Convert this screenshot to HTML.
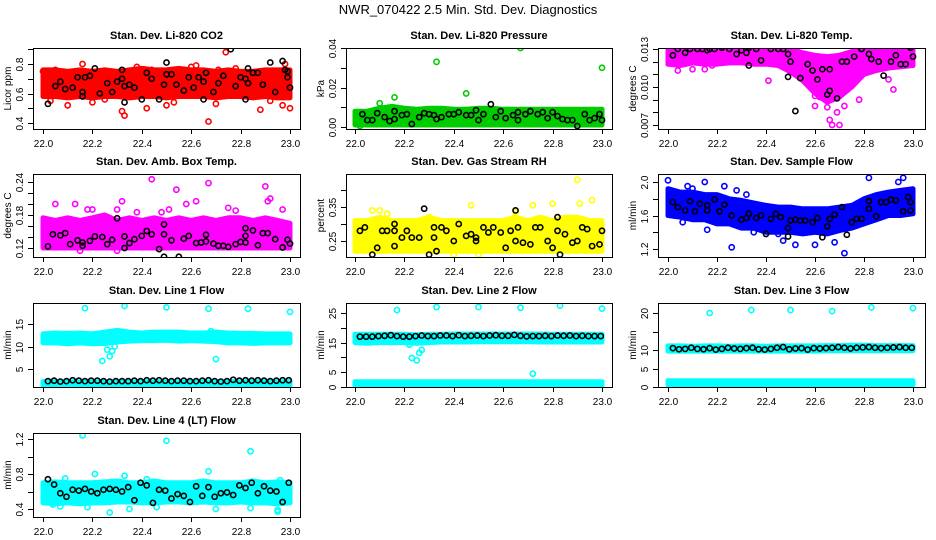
<!DOCTYPE html>
<html><head><meta charset="utf-8"><style>
body{margin:0;background:#fff}
svg{display:block;font-family:"Liberation Sans",Arial,sans-serif}
</style></head><body>
<svg id="c" width="936" height="540" viewBox="0 0 936 540">
<rect width="936" height="540" fill="#fff"/>
<text x="468" y="14" text-anchor="middle" font-size="13">NWR_070422  2.5 Min. Std. Dev. Diagnostics</text>
</svg>
<script>
// shared x grid for bands (22.00 .. 23.00 step 0.05)
const bandT = [22.00,22.05,22.10,22.15,22.20,22.25,22.30,22.35,22.40,22.45,22.50,22.55,22.60,22.65,22.70,22.75,22.80,22.85,22.90,22.95,23.00];
const lineT = [22.02,22.045,22.07,22.095,22.12,22.145,22.17,22.195,22.22,22.245,22.27,22.295,22.32,22.345,22.37,22.395,22.42,22.445,22.47,22.495,22.52,22.545,22.57,22.595,22.62,22.645,22.67,22.695,22.72,22.745,22.77,22.795,22.82,22.845,22.87,22.895,22.92,22.945,22.97,22.995];
const xTicks = [22.0,22.2,22.4,22.6,22.8,23.0];
const xTickLabels = ["22.0","22.2","22.4","22.6","22.8","23.0"];

// Panel 1 CO2
const co2Lo = [0.58,0.58,0.57,0.58,0.57,0.58,0.58,0.57,0.58,0.58,0.57,0.58,0.58,0.58,0.57,0.58,0.58,0.57,0.58,0.57,0.57];
const co2Hi = [0.76,0.76,0.75,0.76,0.75,0.76,0.75,0.76,0.77,0.76,0.76,0.77,0.76,0.76,0.75,0.76,0.75,0.75,0.76,0.76,0.76];
const co2Pts = [[22.0,0.75],[22.05,0.76],[22.1,0.52],[22.16,0.80],[22.18,0.74],[22.25,0.56],[22.32,0.48],[22.33,0.45],[22.42,0.50],[22.44,0.76],[22.5,0.52],[22.53,0.54],[22.6,0.78],[22.62,0.79],[22.67,0.41],[22.71,0.76],[22.74,0.88],[22.78,0.77],[22.88,0.49],[22.9,0.74],[22.97,0.52],[22.98,0.80],[23.0,0.50],[22.2,0.54],[22.7,0.53],[22.38,0.78],[22.03,0.55],[22.92,0.55]];
const co2Blk = [[22.02,0.53],[22.05,0.65],[22.07,0.68],[22.09,0.63],[22.12,0.64],[22.14,0.71],[22.16,0.61],[22.16,0.58],[22.17,0.71],[22.19,0.72],[22.21,0.77],[22.23,0.60],[22.26,0.67],[22.28,0.61],[22.3,0.68],[22.32,0.76],[22.32,0.70],[22.33,0.65],[22.33,0.54],[22.35,0.66],[22.37,0.64],[22.4,0.56],[22.42,0.74],[22.44,0.70],[22.47,0.56],[22.49,0.66],[22.5,0.73],[22.5,0.81],[22.52,0.73],[22.54,0.66],[22.57,0.62],[22.59,0.71],[22.61,0.64],[22.63,0.71],[22.65,0.68],[22.65,0.56],[22.66,0.74],[22.69,0.61],[22.71,0.67],[22.73,0.72],[22.76,0.90],[22.78,0.65],[22.8,0.71],[22.82,0.56],[22.82,0.70],[22.83,0.67],[22.83,0.77],[22.85,0.74],[22.87,0.74],[22.89,0.66],[22.92,0.81],[22.94,0.61],[22.97,0.82],[22.98,0.76],[22.99,0.75],[22.99,0.71],[23.0,0.64]];
// Panel 2 Pressure
const prLo = [0.001,0.001,0.001,0.001,0.001,0.001,0.001,0.001,0.001,0.001,0.001,0.001,0.001,0.001,0.001,0.001,0.001,0.001,0.001,0.001,0.001];
const prHi = [0.008,0.008,0.0095,0.0105,0.0095,0.009,0.0095,0.0095,0.009,0.009,0.0095,0.0095,0.009,0.009,0.009,0.009,0.009,0.009,0.009,0.009,0.009];
const prPts = [[22.33,0.033],[22.45,0.017],[22.67,0.040],[23.0,0.030],[22.16,0.015],[22.1,0.012],[22.02,0.0005]];
const prBlk = [[22.03,0.0065],[22.05,0.0035],[22.07,0.0035],[22.09,0.007],[22.12,0.005],[22.14,0.003],[22.16,0.008],[22.16,0.004],[22.19,0.006],[22.21,0.0065],[22.23,0.0015],[22.26,0.005],[22.28,0.007],[22.3,0.0065],[22.32,0.006],[22.33,0.004],[22.35,0.005],[22.38,0.0065],[22.4,0.0065],[22.42,0.0075],[22.45,0.006],[22.47,0.006],[22.49,0.0085],[22.5,0.0035],[22.52,0.0065],[22.55,0.0115],[22.57,0.005],[22.59,0.008],[22.61,0.0045],[22.64,0.006],[22.66,0.0075],[22.66,0.0035],[22.69,0.0065],[22.71,0.008],[22.74,0.0065],[22.76,0.0075],[22.78,0.0045],[22.8,0.0075],[22.82,0.0055],[22.84,0.004],[22.86,0.0035],[22.88,0.0035],[22.9,0.0005],[22.93,0.0065],[22.95,0.0035],[22.97,0.0045],[22.99,0.0065],[23.0,0.0035]];
// Panel 3 Li-820 Temp
const tLo = [0.0118,0.0117,0.0119,0.0118,0.0118,0.0119,0.0119,0.0118,0.0118,0.0117,0.0112,0.0105,0.0095,0.0088,0.0092,0.0100,0.0110,0.0113,0.0115,0.0116,0.0117];
const tHi = [0.0131,0.0131,0.0131,0.0131,0.0131,0.0131,0.0131,0.0131,0.0131,0.0131,0.0130,0.0127,0.0125,0.0124,0.0125,0.0128,0.0131,0.0131,0.0131,0.0131,0.0131];
const tPts = [[22.04,0.0113],[22.1,0.0114],[22.15,0.0114],[22.18,0.0117],[22.41,0.0105],[22.5,0.0112],[22.6,0.0093],[22.62,0.0092],[22.65,0.0084],[22.66,0.0074],[22.67,0.0070],[22.69,0.0080],[22.7,0.0070],[22.72,0.0085],[22.78,0.0090],[22.9,0.0106],[22.92,0.0098],[22.6,0.0085]];
const tBlk = [[22.02,0.0125],[22.04,0.0130],[22.07,0.0127],[22.09,0.0130],[22.12,0.0130],[22.14,0.0130],[22.16,0.0129],[22.17,0.0130],[22.19,0.0130],[22.22,0.0131],[22.25,0.0130],[22.28,0.0126],[22.3,0.0129],[22.33,0.0131],[22.32,0.0127],[22.33,0.0117],[22.36,0.0130],[22.38,0.0121],[22.42,0.0130],[22.45,0.0130],[22.47,0.0130],[22.49,0.0126],[22.5,0.0120],[22.49,0.0108],[22.52,0.0081],[22.54,0.0107],[22.57,0.0118],[22.59,0.0113],[22.61,0.0106],[22.63,0.0114],[22.66,0.0114],[22.66,0.0097],[22.65,0.0094],[22.69,0.0091],[22.71,0.0120],[22.73,0.0120],[22.76,0.0124],[22.79,0.0130],[22.82,0.0126],[22.83,0.0122],[22.86,0.0120],[22.88,0.0109],[22.91,0.0120],[22.93,0.0125],[22.95,0.0118],[22.97,0.0118],[22.99,0.0131],[23.0,0.0124]];
// Panel 4 Amb Box Temp
const abLo = [0.12,0.12,0.12,0.12,0.12,0.12,0.12,0.12,0.12,0.12,0.12,0.12,0.12,0.12,0.12,0.12,0.12,0.12,0.12,0.12,0.12];
const abHi = [0.175,0.17,0.175,0.17,0.175,0.18,0.17,0.175,0.17,0.175,0.17,0.175,0.17,0.175,0.17,0.175,0.175,0.17,0.175,0.17,0.165];
const abPts = [[22.05,0.20],[22.13,0.20],[22.18,0.19],[22.2,0.19],[22.3,0.19],[22.32,0.205],[22.38,0.185],[22.44,0.245],[22.48,0.185],[22.51,0.19],[22.54,0.226],[22.58,0.20],[22.62,0.205],[22.67,0.238],[22.75,0.193],[22.78,0.188],[22.9,0.232],[22.91,0.205],[22.92,0.21],[22.97,0.19],[22.15,0.115],[22.3,0.115]];
const abBlk = [[22.02,0.123],[22.04,0.145],[22.07,0.143],[22.09,0.147],[22.11,0.127],[22.14,0.134],[22.16,0.130],[22.16,0.124],[22.19,0.133],[22.21,0.141],[22.24,0.140],[22.26,0.127],[22.28,0.135],[22.3,0.174],[22.33,0.141],[22.33,0.120],[22.35,0.129],[22.37,0.136],[22.4,0.142],[22.42,0.151],[22.44,0.145],[22.47,0.118],[22.49,0.163],[22.49,0.145],[22.49,0.104],[22.52,0.134],[22.55,0.104],[22.57,0.137],[22.59,0.142],[22.62,0.129],[22.64,0.130],[22.66,0.144],[22.66,0.132],[22.69,0.128],[22.71,0.124],[22.73,0.124],[22.75,0.122],[22.78,0.127],[22.8,0.131],[22.82,0.130],[22.82,0.142],[22.82,0.156],[22.85,0.152],[22.87,0.125],[22.89,0.147],[22.91,0.147],[22.94,0.136],[22.97,0.121],[22.99,0.135],[23.0,0.128]];
// Panel 5 Gas Stream RH
const rhLo = [0.22,0.22,0.22,0.22,0.22,0.22,0.22,0.22,0.22,0.22,0.22,0.22,0.22,0.22,0.22,0.22,0.22,0.22,0.22,0.22,0.22];
const rhHi = [0.31,0.31,0.32,0.31,0.31,0.31,0.32,0.31,0.31,0.31,0.31,0.31,0.31,0.32,0.31,0.32,0.31,0.32,0.32,0.31,0.31];
const rhPts = [[22.07,0.34],[22.1,0.34],[22.13,0.33],[22.3,0.32],[22.47,0.355],[22.72,0.355],[22.8,0.36],[22.9,0.43],[22.91,0.36],[22.96,0.37],[22.5,0.21],[22.4,0.21],[22.65,0.335]];
const rhBlk = [[22.02,0.28],[22.04,0.29],[22.07,0.21],[22.09,0.23],[22.11,0.28],[22.13,0.28],[22.16,0.30],[22.16,0.28],[22.16,0.235],[22.19,0.26],[22.21,0.28],[22.23,0.26],[22.26,0.26],[22.28,0.345],[22.3,0.21],[22.32,0.29],[22.32,0.26],[22.33,0.22],[22.35,0.29],[22.37,0.28],[22.4,0.25],[22.42,0.30],[22.45,0.265],[22.47,0.27],[22.49,0.26],[22.49,0.25],[22.52,0.29],[22.54,0.275],[22.56,0.29],[22.59,0.275],[22.61,0.23],[22.63,0.28],[22.65,0.34],[22.65,0.25],[22.66,0.29],[22.68,0.245],[22.71,0.24],[22.73,0.29],[22.75,0.29],[22.78,0.25],[22.8,0.23],[22.82,0.32],[22.82,0.28],[22.83,0.21],[22.85,0.27],[22.88,0.245],[22.9,0.25],[22.92,0.29],[22.94,0.285],[22.96,0.235],[22.99,0.24],[23.0,0.28]];
// Panel 6 Sample Flow
const sfLo = [1.6,1.58,1.55,1.55,1.5,1.5,1.45,1.45,1.4,1.4,1.4,1.38,1.4,1.38,1.42,1.45,1.5,1.55,1.6,1.6,1.62];
const sfHi = [1.92,1.88,1.88,1.85,1.85,1.8,1.78,1.75,1.72,1.7,1.7,1.68,1.68,1.68,1.7,1.72,1.8,1.85,1.88,1.9,1.92];
const sfPts = [[22.0,2.02],[22.08,1.95],[22.1,1.92],[22.15,2.0],[22.16,1.43],[22.23,1.95],[22.26,1.22],[22.28,1.90],[22.32,1.85],[22.45,1.38],[22.47,1.30],[22.52,1.25],[22.6,1.25],[22.68,1.28],[22.72,1.15],[22.82,2.05],[22.96,2.05],[22.94,2.0],[22.06,1.52],[22.35,1.40]];
const sfBlk = [[22.02,1.76],[22.04,1.70],[22.07,1.66],[22.09,1.77],[22.11,1.65],[22.13,1.74],[22.16,1.72],[22.16,1.66],[22.19,1.79],[22.21,1.65],[22.23,1.73],[22.26,1.60],[22.3,1.55],[22.32,1.57],[22.33,1.62],[22.36,1.57],[22.38,1.60],[22.4,1.38],[22.42,1.56],[22.44,1.62],[22.46,1.58],[22.49,1.45],[22.49,1.35],[22.5,1.54],[22.52,1.55],[22.54,1.54],[22.56,1.54],[22.59,1.52],[22.61,1.57],[22.63,1.34],[22.65,1.47],[22.66,1.56],[22.68,1.61],[22.71,1.70],[22.73,1.37],[22.75,1.52],[22.77,1.56],[22.79,1.56],[22.82,1.77],[22.82,1.68],[22.85,1.59],[22.87,1.76],[22.89,1.76],[22.91,1.79],[22.93,1.78],[22.96,1.65],[22.98,1.82],[22.99,1.76],[22.99,1.66]];
// Panel 7 Line 1
const l1LoA = [10.8,10.8,10.6,10.8,10.6,10.7,11.0,11.2,11.3,11.3,11.4,11.2,11.3,11.2,11.1,10.8,10.8,10.7,10.8,10.8,10.8];
const l1HiA = [12.8,13.0,12.9,13.0,12.8,13.2,13.6,13.2,13.0,13.2,13.2,13.2,13.0,13.0,13.2,13.0,12.9,12.9,12.8,12.8,12.8];
const l1LoB = [1.3,1.3,1.3,1.3,1.3,1.3,1.3,1.3,1.3,1.3,1.3,1.3,1.3,1.3,1.3,1.3,1.3,1.3,1.3,1.3,1.3];
const l1HiB = [2.2,2.2,2.2,2.2,2.2,2.2,2.2,2.2,2.2,2.2,2.2,2.2,2.2,2.2,2.2,2.2,2.2,2.2,2.2,2.2,2.2];
const l1Pts = [[22.17,18.5],[22.33,19.0],[22.5,18.7],[22.67,18.4],[22.83,18.4],[23.0,17.7],[22.24,6.8],[22.26,9.3],[22.27,7.8],[22.28,9.0],[22.25,10.8],[22.29,10.0],[22.7,7.2],[22.68,13.4]];
const l1Blk = [2.3,2.4,2.2,2.3,2.5,2.4,2.3,2.4,2.4,2.3,2.2,2.3,2.3,2.3,2.4,2.3,2.5,2.4,2.5,2.4,2.3,2.4,2.4,2.3,2.3,2.4,2.5,2.3,2.2,2.3,2.6,2.4,2.5,2.4,2.5,2.4,2.3,2.4,2.5,2.5];
// Panel 8 Line 2
const l2LoA = [15,14.8,15,15,15,14.8,15,15.2,15.2,15.2,15.3,15.3,15.3,15.3,15.3,15.2,15.2,15.2,15.2,15.2,15.2];
const l2HiA = [17.8,17.8,17.8,17.8,17.8,17.6,17.8,17.8,17.9,17.9,17.9,17.9,17.9,17.9,17.9,17.9,17.8,17.8,17.8,17.8,17.8];
const l2LoB = [0.5,0.5,0.5,0.5,0.5,0.5,0.5,0.5,0.5,0.5,0.5,0.5,0.5,0.5,0.5,0.5,0.5,0.5,0.5,0.5,0.5];
const l2HiB = [1.8,1.8,1.8,1.8,1.8,1.8,1.8,1.8,1.8,1.8,1.8,1.8,1.8,1.8,1.8,1.8,1.8,1.8,1.8,1.8,1.8];
const l2Pts = [[22.17,26],[22.33,27],[22.5,27],[22.67,26.8],[22.83,27.5],[23.0,26.5],[22.23,9.8],[22.25,9.0],[22.26,11.5],[22.27,12.5],[22.22,14.3],[22.72,4.5]];
const l2Blk = [17,17,17,17.2,17.3,17.5,17.2,17,17,17.2,17.4,17.2,17.2,17.4,17.4,17.2,17.5,17.2,17.3,17.4,17.2,17.4,17.5,17.3,17.3,17.6,17.3,17.1,17.2,17.2,17.3,17.2,17.4,17.3,17.4,17.2,17.3,17.2,17.2,17.2];
// Panel 9 Line 3
const l3LoA = [9.7,9.7,9.7,9.7,9.7,9.7,9.7,9.7,9.7,9.7,9.7,9.7,9.7,9.8,9.8,9.8,9.8,9.8,9.8,9.8,9.8];
const l3HiA = [11.1,11.1,11.0,11.1,11.1,11.0,11.1,11.1,11.0,11.1,11.1,11.1,11.1,11.2,11.2,11.3,11.3,11.2,11.2,11.2,11.2];
const l3LoB = [0.6,0.6,0.6,0.6,0.6,0.6,0.6,0.6,0.6,0.6,0.6,0.6,0.6,0.6,0.6,0.6,0.6,0.6,0.6,0.6,0.6];
const l3HiB = [1.7,1.7,1.7,1.7,1.7,1.7,1.7,1.7,1.7,1.7,1.7,1.7,1.7,1.7,1.7,1.7,1.7,1.7,1.7,1.7,1.7];
const l3Pts = [[22.17,20],[22.34,20.8],[22.5,20.8],[22.67,20.5],[22.83,21.5],[23.0,21.3]];
const l3Blk = [10.5,10.2,10.3,10.6,10.3,10.2,10.5,10.1,10.3,10.6,10.4,10.3,10.5,10.6,10.2,10.1,10.3,10.6,10.8,10.2,10.4,10.5,10.1,10.5,10.4,10.5,10.6,10.8,10.6,10.4,10.6,10.7,10.8,10.6,10.5,10.6,10.7,10.8,10.6,10.6];
// Panel 10 Line 4
const l4Lo = [0.47,0.46,0.47,0.46,0.47,0.47,0.48,0.48,0.47,0.47,0.48,0.48,0.47,0.48,0.47,0.47,0.48,0.47,0.47,0.46,0.47];
const l4Hi = [0.70,0.71,0.70,0.70,0.70,0.71,0.72,0.70,0.70,0.72,0.70,0.70,0.70,0.72,0.70,0.70,0.70,0.72,0.70,0.71,0.70];
const l4Pts = [[22.16,1.24],[22.5,1.18],[22.84,1.06],[22.67,0.83],[22.21,0.80],[22.09,0.75],[22.33,0.78],[22.42,0.74],[22.27,0.36],[22.95,0.37],[22.95,0.39],[22.18,0.42],[22.35,0.40],[22.46,0.42],[22.7,0.40],[22.84,0.41],[22.04,0.45],[22.07,0.43],[22.96,0.73]];
const l4Blk = [0.74,0.68,0.58,0.54,0.62,0.61,0.63,0.60,0.58,0.62,0.63,0.62,0.60,0.65,0.50,0.70,0.67,0.47,0.62,0.61,0.52,0.57,0.55,0.48,0.66,0.55,0.65,0.54,0.58,0.59,0.56,0.67,0.64,0.70,0.58,0.66,0.61,0.60,0.48,0.70];

const svg = document.getElementById('c');
const NS = 'http://www.w3.org/2000/svg';
function mk(tag, attrs, parent){const e=document.createElementNS(NS,tag);for(const k in attrs)e.setAttribute(k,attrs[k]);(parent||svg).appendChild(e);return e;}

const cols = [{l:33,r:300,x0:43,x1:290},{l:346,r:612,x0:355,x1:602},{l:658,r:925,x0:668,x1:913}];
const rows = [{t:48,b:129},{t:174,b:257},{t:303,b:387},{t:433,b:517}];

function pairs(ys){return lineT.map((t,i)=>[t,ys[i]]);}

const panels = [
 {key:'co2',c:0,r:0,title:'Stan. Dev. Li-820 CO2',ylab:'Licor ppm',col:'#ff0000',cal:[0.4,123,0.8,64],ticks:[0.4,0.5,0.6,0.7,0.8,0.9],labs:{'0.4':'0.4','0.6':'0.6','0.8':'0.8'},bands:[[co2Lo,co2Hi]],pts:co2Pts,blk:co2Blk},
 {key:'pressure',c:1,r:0,title:'Stan. Dev. Li-820 Pressure',ylab:'kPa',col:'#00cc00',cal:[0,127,0.04,48],ticks:[0,0.01,0.02,0.03,0.04],labs:{'0':'0.00','0.02':'0.02','0.04':'0.04'},bands:[[prLo,prHi]],pts:prPts,blk:prBlk},
 {key:'li820-temp',c:2,r:0,title:'Stan. Dev. Li-820 Temp.',ylab:'degrees C',col:'#ff00ff',cal:[0.007,125,0.013,49],ticks:[0.007,0.008,0.009,0.010,0.011,0.012,0.013],labs:{'0.007':'0.007','0.01':'0.010','0.013':'0.013'},bands:[[tLo,tHi]],pts:tPts,blk:tBlk},
 {key:'amb-box-temp',c:0,r:1,title:'Stan. Dev. Amb. Box Temp.',ylab:'degrees C',col:'#ff00ff',cal:[0.12,248,0.24,182],ticks:[0.12,0.14,0.16,0.18,0.2,0.22,0.24],labs:{'0.12':'0.12','0.18':'0.18','0.24':'0.24'},bands:[[abLo,abHi]],pts:abPts,blk:abBlk},
 {key:'gas-stream-rh',c:1,r:1,title:'Stan. Dev. Gas Stream RH',ylab:'percent',col:'#ffff00',cal:[0.25,241,0.35,207],ticks:[0.25,0.3,0.35,0.4],labs:{'0.25':'0.25','0.35':'0.35'},bands:[[rhLo,rhHi]],pts:rhPts,blk:rhBlk},
 {key:'sample-flow',c:2,r:1,title:'Stan. Dev. Sample Flow',ylab:'ml/min',col:'#0000ff',cal:[1.2,249,2.0,182],ticks:[1.2,1.4,1.6,1.8,2.0],labs:{'1.2':'1.2','1.6':'1.6','2':'2.0'},bands:[[sfLo,sfHi]],pts:sfPts,blk:sfBlk},
 {key:'line1-flow',c:0,r:2,title:'Stan. Dev. Line 1 Flow',ylab:'ml/min',col:'#00ffff',cal:[5,369,15,324],ticks:[5,10,15],labs:{'5':'5','10':'10','15':'15'},bands:[[l1LoA,l1HiA],[l1LoB,l1HiB]],pts:l1Pts,blk:pairs(l1Blk)},
 {key:'line2-flow',c:1,r:2,title:'Stan. Dev. Line 2 Flow',ylab:'ml/min',col:'#00ffff',cal:[0,387,25,313],ticks:[0,5,10,15,20,25],labs:{'0':'0','5':'5','15':'15','25':'25'},bands:[[l2LoA,l2HiA],[l2LoB,l2HiB]],pts:l2Pts,blk:pairs(l2Blk)},
 {key:'line3-flow',c:2,r:2,title:'Stan. Dev. Line 3 Flow',ylab:'ml/min',col:'#00ffff',cal:[0,387,20,313],ticks:[0,5,10,15,20],labs:{'0':'0','5':'5','10':'10','20':'20'},bands:[[l3LoA,l3HiA],[l3LoB,l3HiB]],pts:l3Pts,blk:pairs(l3Blk)},
 {key:'line4-lt-flow',c:0,r:3,title:'Stan. Dev. Line 4 (LT) Flow',ylab:'ml/min',col:'#00ffff',cal:[0.4,509,1.2,439],ticks:[0.4,0.6,0.8,1.0,1.2],labs:{'0.4':'0.4','0.8':'0.8','1.2':'1.2'},bands:[[l4Lo,l4Hi]],pts:l4Pts,blk:pairs(l4Blk)}
];

panels.forEach(p=>{
  const C=cols[p.c], R=rows[p.r];
  const xs=v=>C.x0+(v-22)*(C.x1-C.x0);
  const ys=v=>p.cal[1]+(v-p.cal[0])*(p.cal[3]-p.cal[1])/(p.cal[2]-p.cal[0]);
  const g=mk('g',{});
  
  
  const clipId='clip-'+p.key;
  const cp=mk('clipPath',{id:clipId},g);
  mk('rect',{x:C.l,y:R.t,width:C.r-C.l,height:R.b-R.t},cp);
  const plot=mk('g',{'clip-path':'url(#'+clipId+')'},g);
  p.bands.forEach(b=>{
    const lo=b[0],hi=b[1];
    let d='M'+bandT.map((t,i)=>xs(t).toFixed(1)+','+ys(hi[i]).toFixed(1)).join(' L');
    for(let i=bandT.length-1;i>=0;i--) d+=' L'+xs(bandT[i]).toFixed(1)+','+ys(lo[i]).toFixed(1);
    const band=mk('path',{d:d+'Z',fill:p.col,stroke:p.col,'stroke-width':5,'stroke-linejoin':'round'},plot);
    
    
  });
  p.pts.forEach(pt=>{
    const c=mk('circle',{cx:xs(pt[0]),cy:ys(pt[1]),r:2.6,fill:'none',stroke:p.col,'stroke-width':1.6},plot);
    
    
  });
  p.blk.forEach(pt=>{
    const c=mk('circle',{cx:xs(pt[0]),cy:ys(pt[1]),r:2.6,fill:'none',stroke:'#000','stroke-width':1.6},plot);
    
    
  });
  const box=mk('rect',{x:C.l+0.5,y:R.t+0.5,width:C.r-C.l,height:R.b-R.t,fill:'none',stroke:'#000','stroke-width':1},g);
  
  
  xTicks.forEach((v,i)=>{
    const x=Math.round(xs(v))+0.5;
    mk('line',{x1:x,x2:x,y1:R.b+0.5,y2:R.b+5,stroke:'#000'},g);
    const t=mk('text',{x:x,y:R.b+18,'text-anchor':'middle','font-size':10},g);
    t.textContent=xTickLabels[i];
    
    
  });
  p.ticks.forEach(v=>{
    const y=Math.round(ys(v))+0.5;
    mk('line',{x1:C.l-5,x2:C.l+0.5,y1:y,y2:y,stroke:'#000'},g);
    const key=String(+v.toFixed(4));
    if(p.labs[key]){
      const t=mk('text',{x:C.l-10,y:y,'text-anchor':'middle','font-size':10,transform:'rotate(-90 '+(C.l-10)+' '+y+')'},g);
      t.textContent=p.labs[key];
      
      
    }
  });
  const cy=(R.t+R.b)/2;
  const yl=mk('text',{x:C.l-22,y:cy,'text-anchor':'middle','font-size':10,transform:'rotate(-90 '+(C.l-22)+' '+cy+')'},g);
  yl.textContent=p.ylab;
  
  
  const tt=mk('text',{x:(C.l+C.r)/2,y:R.t-9,'text-anchor':'middle','font-size':11,'font-weight':'bold'},g);
  tt.textContent=p.title;
  
  
});
</script>
</body></html>
